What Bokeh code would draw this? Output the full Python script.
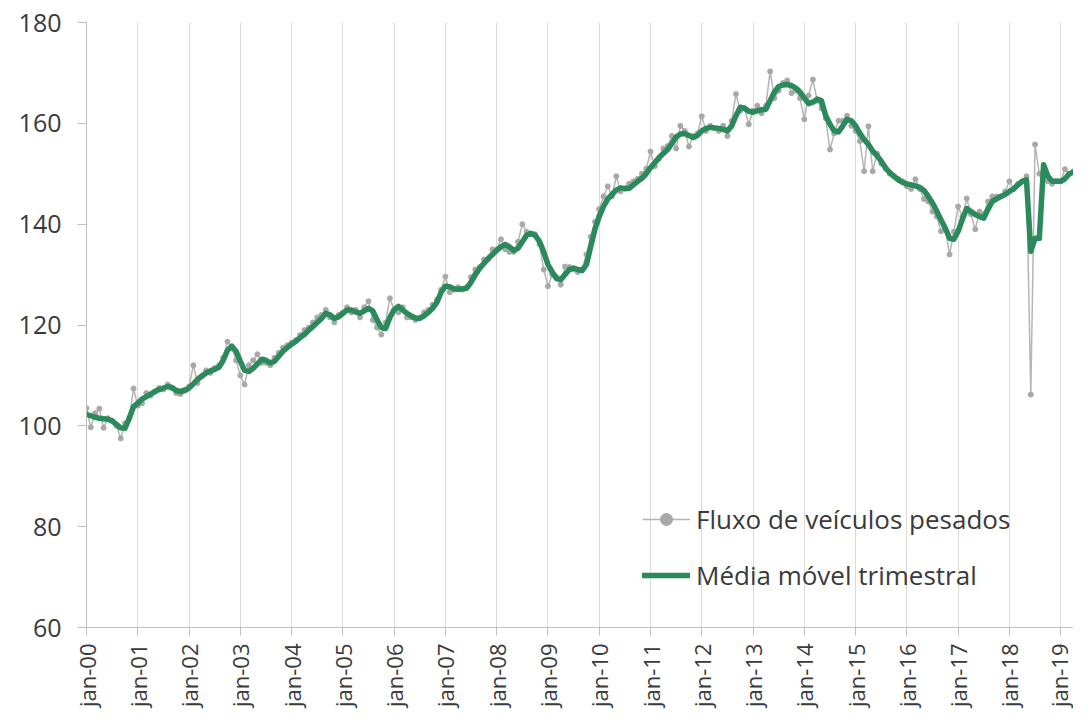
import math
from bokeh.plotting import figure
from bokeh.models import ColumnDataSource, FixedTicker, Legend, LegendItem, Range1d
from bokeh.embed import file_html
from bokeh.resources import INLINE

# ---- data (monthly, jan-2000 .. apr-2019) ----
start_year = 2000
year_labels = ["jan-00", "jan-01", "jan-02", "jan-03", "jan-04", "jan-05", "jan-06",
               "jan-07", "jan-08", "jan-09", "jan-10", "jan-11", "jan-12", "jan-13",
               "jan-14", "jan-15", "jan-16", "jan-17", "jan-18", "jan-19"]

fluxo = [
    103.5, 99.7, 102.5, 103.4, 99.6, 101.5, 101.0, 100.0, 97.5, 100.5, 101.5, 107.4,
    104.0, 104.5, 106.5, 106.0, 106.8, 107.5, 107.2, 108.2, 107.5, 106.5, 106.3, 107.2,
    107.8, 112.0, 108.5, 109.8, 111.0, 110.5, 111.5, 112.0, 113.5, 116.7, 115.5, 113.0,
    110.0, 108.2, 112.0, 113.0, 114.2, 112.5, 112.5, 112.0, 113.5, 114.5, 115.5, 116.0,
    116.5, 117.0, 118.0, 119.0, 119.5, 120.5, 121.5, 122.0, 123.0, 121.5, 120.5, 122.0,
    122.5, 123.5, 122.5, 123.0, 121.5, 123.5, 124.7, 121.0, 119.5, 118.1, 120.5, 125.3,
    123.0, 122.5, 123.5, 121.5, 121.5, 121.0, 121.5, 122.5, 123.0, 124.0, 125.0, 127.0,
    129.6, 126.5, 127.0, 127.5, 127.0, 127.5, 129.5, 131.0, 131.5, 133.0, 133.0, 135.0,
    135.0, 137.0, 135.0, 134.5, 134.5, 136.5, 140.0, 138.5, 138.0, 138.0, 136.0, 131.0,
    127.7, 130.0, 129.5, 128.0, 131.6, 131.5, 131.0, 130.5, 131.0, 134.0, 137.5, 140.5,
    143.0, 145.5, 147.5, 145.5, 149.5, 146.5, 147.0, 148.0, 148.5, 149.0, 150.0, 151.0,
    154.4, 151.5, 153.0, 155.0, 155.5, 157.5, 155.0, 159.5, 158.5, 155.4, 157.5, 158.0,
    161.4, 158.5, 159.5, 159.0, 158.5, 159.5, 157.5, 160.5, 165.8, 162.5, 163.0, 159.8,
    162.5, 163.5, 162.0, 163.5, 170.3, 165.0, 166.5, 168.0, 168.5, 166.0, 166.5, 165.0,
    160.8, 165.5, 168.7, 164.5, 163.0, 161.0, 154.8, 158.0, 160.5, 160.5, 161.5, 159.5,
    158.5, 156.5, 150.5, 159.4, 150.5, 154.0, 152.0, 151.0, 150.0, 149.5, 149.0, 148.5,
    147.5, 147.0, 148.9, 147.0, 145.0, 144.5, 142.5, 141.5, 138.6, 139.0, 134.0, 138.5,
    143.5, 141.5, 145.1, 142.0, 139.0, 142.5, 142.0, 144.5, 145.5, 145.5, 145.5, 146.5,
    148.5, 147.0, 148.0, 148.5, 149.5, 106.2, 155.8, 150.0, 149.5, 148.5, 148.0, 148.5,
    148.5, 150.9, 150.0, 150.5,
]

media_movel = [
    102.3, 102.0, 101.7, 101.5, 101.4, 101.3, 101.0, 100.3, 99.6, 99.5, 101.5, 103.8,
    104.5, 105.3, 105.8, 106.3, 106.8, 107.2, 107.5, 107.8, 107.6, 107.0, 106.8, 107.0,
    107.5, 108.3, 109.2, 109.9, 110.5, 110.9, 111.2, 111.6, 113.0, 115.0, 115.8, 114.8,
    112.8, 111.0, 110.8, 111.4, 112.3, 113.2, 113.0, 112.5, 112.8, 113.8, 114.8, 115.5,
    116.2, 116.8, 117.5, 118.1, 119.0, 119.7, 120.5, 121.3, 122.3, 122.0, 121.3, 121.6,
    122.3, 123.0, 123.0, 122.6, 122.3, 122.8, 123.3, 122.8, 121.0, 119.5, 119.3, 121.5,
    123.0, 123.7, 123.0, 122.3, 121.8, 121.4, 121.3, 121.8, 122.5, 123.3, 124.5, 126.5,
    127.7, 127.6, 127.2, 127.1, 127.2, 127.3, 128.5, 130.0, 131.2, 132.2, 133.2, 134.0,
    134.8, 135.5, 136.0, 135.5, 134.8, 135.2, 136.5, 137.8, 138.2, 137.8, 136.6, 134.5,
    132.0, 130.5, 129.2, 129.0, 130.0, 131.0, 131.3, 131.0, 130.8, 132.0, 135.5, 139.0,
    141.5, 143.5, 145.0, 145.9, 146.8, 147.2, 147.1, 147.1, 147.8, 148.5, 149.1, 150.0,
    151.2, 152.2, 153.2, 154.0, 154.8, 156.0, 157.3, 157.9, 158.0, 157.6, 157.2, 157.6,
    158.5, 159.0, 159.2, 159.1, 159.0, 158.8, 158.5, 159.5, 161.5, 163.2, 163.0, 162.4,
    162.2, 162.5, 162.7, 162.8, 164.5, 166.2, 167.3, 167.6, 167.7, 167.5, 167.0, 166.2,
    165.0, 163.9, 164.2, 164.8, 164.5, 161.5, 159.8, 158.5, 158.3, 159.5, 160.8, 160.5,
    159.5, 158.0, 156.8, 155.8, 154.5, 153.6, 152.5, 151.2, 150.2, 149.5, 148.8, 148.3,
    148.0, 147.8, 147.6, 147.3, 146.7, 145.5, 144.2, 142.6, 140.8, 139.2, 137.2, 137.0,
    138.6, 141.0, 143.1, 142.5, 141.9, 141.5, 141.2, 143.0, 144.5, 145.0, 145.5, 145.9,
    146.5, 147.0, 147.8, 148.5, 148.8, 134.6, 137.2, 137.2, 151.8, 149.5, 148.5, 148.5,
    148.5, 149.0, 150.0, 150.3,
]

y_ticks = [60, 80, 100, 120, 140, 160, 180]

# ---- build ----
n = len(fluxo)
x = [start_year + i / 12 for i in range(n)]
src = ColumnDataSource(dict(x=x, fluxo=fluxo, mm=media_movel))

FONT = "Open Sans"
TXT = "#3a3a3a"

p = figure(width=1073, height=712, output_backend="svg", toolbar_location=None,
           x_range=Range1d(start_year, x[-1]), y_range=Range1d(60, 180),
           min_border_left=86, min_border_right=0, min_border_top=22,
           min_border_bottom=85)
p.outline_line_color = None
p.background_fill_color = "white"
p.border_fill_color = "white"

r_line = p.line("x", "fluxo", source=src, line_color="#b5b5b5", line_width=1.5)
r_pts = p.scatter("x", "fluxo", source=src, size=5, fill_color="#a8a8a8",
                  line_color="#a8a8a8")
r_mm = p.line("x", "mm", source=src, line_color="#2a8a5c", line_width=5.5,
              line_join="round", line_cap="round")

year_ticks = list(range(start_year, start_year + len(year_labels)))
p.xaxis.ticker = FixedTicker(ticks=year_ticks)
p.xaxis.major_label_overrides = {t: lab for t, lab in zip(year_ticks, year_labels)}
p.xaxis.major_label_orientation = math.pi / 2
p.xaxis.minor_tick_line_color = None
p.xaxis.major_tick_in = 0
p.xaxis.major_tick_out = 8
p.xaxis.major_label_standoff = 8
p.xaxis.axis_line_color = "#bfbfbf"
p.xaxis.major_tick_line_color = "#bfbfbf"
p.xaxis.major_label_text_font = FONT
p.xaxis.major_label_text_font_size = "22px"
p.xaxis.major_label_text_color = TXT

p.yaxis.ticker = FixedTicker(ticks=y_ticks)
p.yaxis.minor_tick_line_color = None
p.yaxis.major_tick_in = 0
p.yaxis.major_tick_out = 9
p.yaxis.major_label_standoff = 16
p.yaxis.axis_line_color = "#bfbfbf"
p.yaxis.major_tick_line_color = "#bfbfbf"
p.yaxis.major_label_text_font = FONT
p.yaxis.major_label_text_font_size = "25px"
p.yaxis.major_label_text_color = TXT

p.xgrid.ticker = FixedTicker(ticks=year_ticks)
p.xgrid.grid_line_color = "#dadada"
p.xgrid.grid_line_width = 1
p.ygrid.grid_line_color = None

legend = Legend(items=[
    LegendItem(label="Fluxo de veículos pesados", renderers=[r_line, r_pts]),
    LegendItem(label="Média móvel trimestral", renderers=[r_mm]),
], location=(556, 34))
legend.background_fill_alpha = 0
legend.border_line_color = None
legend.padding = 0
legend.margin = 0
legend.spacing = 20
legend.glyph_width = 48
legend.glyph_height = 30
legend.label_height = 30
legend.label_standoff = 6
legend.label_text_font = FONT
legend.label_text_font_size = "26px"
legend.label_text_color = TXT
p.add_layout(legend)

open("out.html", "w").write(file_html(p, INLINE))
